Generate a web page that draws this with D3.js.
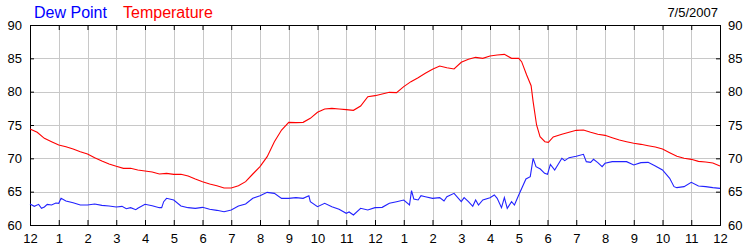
<!DOCTYPE html>
<html>
<head>
<meta charset="utf-8">
<script src="https://cdn.jsdelivr.net/npm/d3@7"></script>
<style>
  body { margin: 0; background: #fff; }
  svg { display: block; font-family: Arial, "Liberation Sans", sans-serif; }
</style>
</head>
<body>
<div id="chart"></div>
<script>
// hours since midnight, 7/5/2007
const tempHours = [0,0.25,0.5,0.75,1,1.25,1.5,1.75,2,2.25,2.5,2.75,3,3.25,3.5,3.75,4,4.25,4.5,4.75,5,5.25,5.5,5.75,6,6.25,6.5,6.75,7,7.25,7.5,7.75,8,8.25,8.5,8.75,9,9.25,9.5,9.75,10,10.25,10.5,10.75,11,11.25,11.5,11.75,12,12.25,12.5,12.75,13,13.25,13.5,13.75,14,14.25,14.5,14.75,15,15.25,15.5,15.75,16,16.25,16.5,16.75,17,17.1,17.275,17.43,17.5,17.62,17.74,17.91,18.03,18.2,18.5,18.75,19,19.25,19.5,19.75,20,20.25,20.5,20.75,21,21.25,21.5,21.75,22,22.25,22.5,22.75,23,23.25,23.5,23.75,24];
const tempValues = [74.4,73.9,73.0,72.5,72.0,71.75,71.4,71.0,70.65,70.1,69.6,69.15,68.8,68.5,68.5,68.25,68.1,67.95,67.65,67.75,67.6,67.6,67.35,66.9,66.5,66.15,65.9,65.55,65.55,65.9,66.5,67.65,68.75,70.25,72.5,74.25,75.4,75.35,75.4,76.0,76.9,77.4,77.5,77.4,77.3,77.2,77.85,79.25,79.4,79.65,79.9,79.85,80.75,81.5,82.1,82.75,83.35,83.85,83.6,83.4,84.4,84.85,85.15,85.0,85.35,85.5,85.6,85.0,85.0,84.5,82.5,80.9,78.5,75.0,73.25,72.5,72.4,73.2,73.6,73.9,74.2,74.25,73.9,73.6,73.45,73.1,72.75,72.5,72.25,72.1,71.9,71.7,71.4,70.85,70.3,70.0,69.85,69.55,69.45,69.3,68.85];

const dewHours = [0,0.15,0.3,0.4,0.5,0.6,0.75,0.9,1,1.08,1.25,1.5,1.75,2,2.25,2.5,2.75,3,3.2,3.35,3.5,3.68,3.75,4,4.25,4.5,4.58,4.65,4.75,5,5.25,5.5,5.75,6,6.25,6.5,6.75,7,7.25,7.5,7.75,8,8.25,8.5,8.75,9,9.25,9.5,9.7,9.75,10,10.25,10.5,10.75,11,11.1,11.25,11.5,11.75,12,12.25,12.5,12.75,13,13.2,13.27,13.35,13.5,13.6,13.75,14,14.25,14.4,14.5,14.75,15,15.1,15.25,15.4,15.5,15.6,15.75,16,16.15,16.25,16.4,16.5,16.6,16.75,16.85,17,17.25,17.4,17.5,17.6,17.75,17.9,18,18.1,18.25,18.5,18.6,18.75,19,19.25,19.35,19.5,19.6,19.75,19.9,20,20.25,20.5,20.75,21,21.25,21.5,21.75,22,22.25,22.4,22.5,22.75,23,23.25,23.5,23.75,24];
const dewValues = [63.15,62.8,63.1,62.5,62.7,63.1,63.0,63.3,63.25,64.0,63.6,63.35,63.0,63.0,63.15,62.95,62.85,62.7,62.8,62.45,62.6,62.3,62.5,63.1,62.9,62.6,62.6,63.5,64.0,63.75,62.85,62.6,62.5,62.65,62.35,62.2,62.0,62.25,62.85,63.15,64.0,64.4,64.9,64.75,64.0,64.0,64.1,64.0,64.4,63.5,62.75,63.25,62.75,62.35,61.75,61.95,61.5,62.5,62.25,62.6,62.65,63.25,63.5,63.75,63.0,65.15,63.9,63.75,64.4,64.25,64.0,64.1,63.6,64.25,64.75,63.5,64.1,63.5,62.8,63.75,63.0,63.75,64.1,64.5,64.0,62.6,64.1,62.5,63.5,63.0,64.5,66.9,67.25,70.0,68.75,68.4,67.75,67.6,69.1,68.25,70.0,69.65,70.1,70.3,70.6,69.5,69.4,69.85,69.35,68.75,69.25,69.5,69.5,69.5,69.0,69.35,69.4,68.85,68.25,67.0,65.75,65.6,65.75,66.4,65.85,65.75,65.6,65.5];

const xTickLabels = ["12","1","2","3","4","5","6","7","8","9","10","11","12","1","2","3","4","5","6","7","8","9","10","11","12"];
const yTicks = [60, 65, 70, 75, 80, 85, 90];
const dateLabel = "7/5/2007";

const width = 750, height = 250;
const margin = {top: 25, right: 30, bottom: 25, left: 30};

const svg = d3.select("#chart").append("svg")
    .attr("width", width)
    .attr("height", height);

const x = d3.scaleLinear().domain([0, 24]).range([margin.left, width - margin.right]);
const y = d3.scaleLinear().domain([60, 90]).range([height - margin.bottom, margin.top]);

// grid
const grid = svg.append("g").attr("shape-rendering", "crispEdges");
grid.selectAll(".vg").data(d3.range(1, 24)).join("line")
    .attr("x1", d => Math.round(x(d)) + 0.5).attr("x2", d => Math.round(x(d)) + 0.5)
    .attr("y1", y(90)).attr("y2", y(60))
    .attr("stroke", "#c8c8c8");
grid.selectAll(".hg").data(yTicks.slice(1, -1)).join("line")
    .attr("x1", x(0)).attr("x2", x(24))
    .attr("y1", d => Math.round(y(d)) + 0.5).attr("y2", d => Math.round(y(d)) + 0.5)
    .attr("stroke", "#c8c8c8");

// axes with inner ticks
const axBottom = svg.append("g").attr("transform", `translate(0,${y(60)})`)
    .call(d3.axisBottom(x).tickValues(d3.range(0, 25)).tickSize(-5).tickPadding(9)
        .tickFormat((d, i) => xTickLabels[i]));
const axTop = svg.append("g").attr("transform", `translate(0,${y(90)})`)
    .call(d3.axisTop(x).tickValues(d3.range(0, 25)).tickSize(-5).tickFormat(""));
const axLeft = svg.append("g").attr("transform", `translate(${x(0)},0)`)
    .call(d3.axisLeft(y).tickValues(yTicks).tickSize(-4).tickPadding(8));
const axRight = svg.append("g").attr("transform", `translate(${x(24)},0)`)
    .call(d3.axisRight(y).tickValues(yTicks).tickSize(-4).tickPadding(8));

[axBottom, axTop, axLeft, axRight].forEach(g => {
    g.selectAll(".domain").attr("stroke", "#000");
    g.selectAll(".tick line").attr("stroke", "#000");
    g.selectAll("text").attr("fill", "#000").style("font-size", "13px")
        .style("font-family", "Arial, 'Liberation Sans', sans-serif");
});

// lines
const line = d3.line().x(d => x(d[0])).y(d => y(d[1]));
svg.append("path")
    .datum(tempHours.map((h, i) => [h, tempValues[i]]))
    .attr("fill", "none").attr("stroke", "#ff0000").attr("stroke-width", 1.1)
    .attr("d", line);
svg.append("path")
    .datum(dewHours.map((h, i) => [h, dewValues[i]]))
    .attr("fill", "none").attr("stroke", "#2222ff").attr("stroke-width", 1.1)
    .attr("d", line);

// titles
svg.append("text").attr("x", 34).attr("y", 18).attr("fill", "#0000ff")
    .style("font-size", "16px").text("Dew Point");
svg.append("text").attr("x", 123).attr("y", 18).attr("fill", "#ff0000")
    .style("font-size", "16px").text("Temperature");
svg.append("text").attr("x", 718).attr("y", 17).attr("text-anchor", "end")
    .attr("fill", "#000").style("font-size", "13px").text(dateLabel);
</script>
</body>
</html>
